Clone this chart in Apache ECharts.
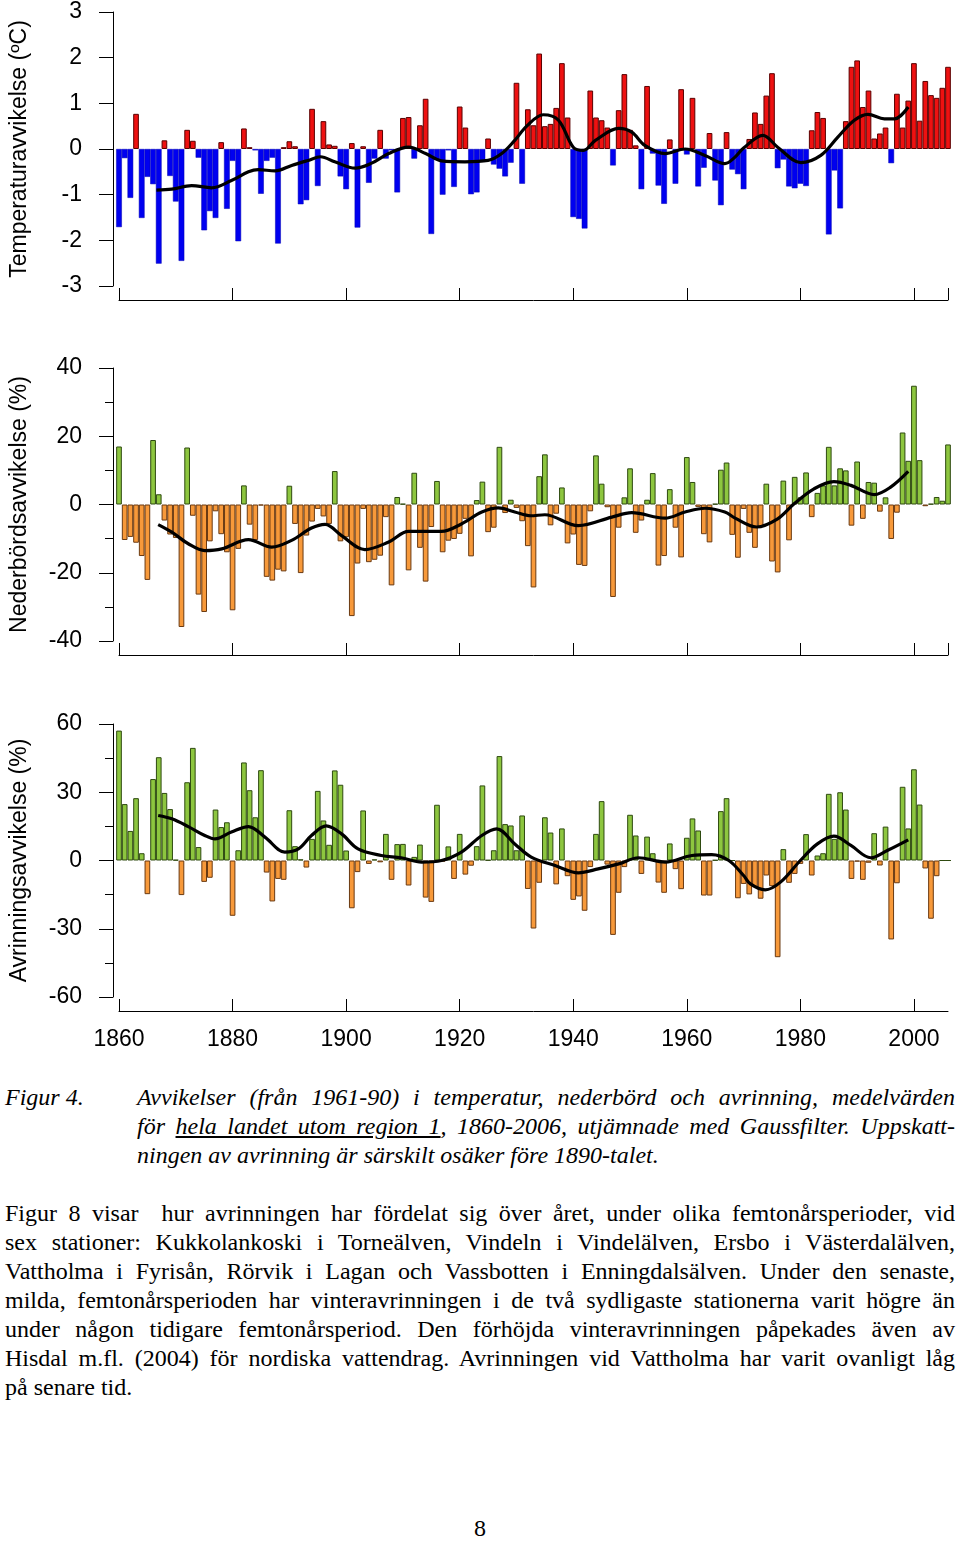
<!DOCTYPE html>
<html><head><meta charset="utf-8">
<script src="https://cdn.jsdelivr.net/npm/echarts@6/dist/echarts.min.js"></script>
<style>
body{margin:0;background:#fff;width:960px;height:1541px;position:relative;overflow:hidden}
#chart{position:absolute;left:0;top:0;width:960px;height:1075px}
.t{position:absolute;font-family:"Liberation Serif","Times New Roman",serif;font-size:24px;color:#000;line-height:29px;white-space:nowrap}
.j{text-align:justify;text-align-last:justify}
.i{font-style:italic}
</style></head><body>
<div id="chart"></div>
<div class="t i" style="left:5px;top:1083px">Figur 4.</div>
<div class="t i j" style="left:137px;top:1083px;width:818px">Avvikelser (från 1961-90) i temperatur, nederbörd och avrinning, medelvärden</div>
<div class="t i j" style="left:137px;top:1112px;width:818px">för <u>hela landet utom region 1</u>, 1860-2006, utjämnade med Gaussfilter. Uppskatt-</div>
<div class="t i" style="left:137px;top:1141px">ningen av avrinning är särskilt osäker före 1890-talet.</div>
<div class="t j" style="left:5px;top:1199px;width:950px">Figur 8 visar&nbsp; hur avrinningen har fördelat sig över året, under olika femtonårsperioder, vid</div>
<div class="t j" style="left:5px;top:1228px;width:950px">sex stationer: Kukkolankoski i Torneälven, Vindeln i Vindelälven, Ersbo i Västerdalälven,</div>
<div class="t j" style="left:5px;top:1257px;width:950px">Vattholma i Fyrisån, Rörvik i Lagan och Vassbotten i Enningdalsälven. Under den senaste,</div>
<div class="t j" style="left:5px;top:1286px;width:950px">milda, femtonårsperioden har vinteravrinningen i de två sydligaste stationerna varit högre än</div>
<div class="t j" style="left:5px;top:1315px;width:950px">under någon tidigare femtonårsperiod. Den förhöjda vinteravrinningen påpekades även av</div>
<div class="t j" style="left:5px;top:1344px;width:950px">Hisdal m.fl. (2004) för nordiska vattendrag. Avrinningen vid Vattholma har varit ovanligt låg</div>
<div class="t" style="left:5px;top:1373px">på senare tid.</div>
<div class="t" style="left:474px;top:1514px">8</div>
<script>
const START_YEAR = 1860;
const END_YEAR = 2006;
const xTicks = [1860, 1880, 1900, 1920, 1940, 1960, 1980, 2000];

// Temperature anomaly (°C), 1860-2006
const temperature = [
 -1.71,-0.2,-1.07,0.77,-1.51,-0.61,-0.77,-2.51,0.19,-0.59,
 -1.15,-2.45,0.42,0.18,-0.19,-1.78,-1.36,-1.51,0.15,-1.31,
 -0.26,-2.02,0.45,0.04,-0.03,-0.98,-0.26,-0.19,-2.07,0.04,
 0.17,0.06,-1.21,-1.12,0.88,-0.81,0.61,0.1,0.07,-0.6,
 -0.88,0.13,-1.72,0.06,-0.74,-0.21,0.42,-0.21,-0.03,-0.95,
 0.68,0.7,-0.21,0.52,1.1,-1.86,-0.23,-1.0,-0.03,-0.83,
 0.93,0.47,-0.99,-0.95,-0.25,0.23,-0.34,-0.43,-0.6,-0.3,
 1.45,-0.76,0.87,0.52,2.09,0.5,0.55,0.9,1.88,0.69,
 -1.49,-1.53,-1.74,1.28,0.69,0.63,0.47,-0.36,0.85,1.64,
 0.42,0.08,-0.88,1.38,-0.1,-0.8,-1.2,0.21,-0.76,1.31,
 -0.12,1.12,-0.82,-0.41,0.35,-0.69,-1.23,0.37,-0.45,-0.55,
 -0.88,0.22,0.8,0.55,1.17,1.66,-0.42,-0.23,-0.82,-0.86,
 -0.76,-0.81,0.41,0.81,0.68,-1.87,-0.47,-1.3,0.61,1.8,
 1.94,0.92,1.28,0.23,0.34,0.47,-0.31,1.21,0.47,1.06,
 1.88,0.62,1.49,1.18,1.12,1.34,1.8
];
// Precipitation anomaly (%), 1860-2006
const precipitation = [
 17.0,-10.4,-9.5,-11.2,-15.1,-22.1,18.9,3.0,-4.7,-8.8,
 -9.8,-35.9,16.7,-3.3,-26.4,-31.5,-10.8,-2.0,-8.7,-14.0,
 -31.0,-13.0,5.6,-5.9,-10.4,-0.3,-21.2,-22.3,-19.1,-19.6,
 5.5,-5.7,-20.1,-9.1,-5.0,-1.3,-3.5,-5.7,9.8,-10.8,
 -9.6,-32.7,-17.3,-1.3,-16.9,-16.2,-15.0,-3.7,-23.7,2.2,
 0.2,-19.3,9.3,-12.7,-22.6,-6.6,6.9,-14.0,-10.6,-10.1,
 -8.6,-4.2,-15.2,1.3,6.7,-8.1,-6.8,16.9,-2.5,1.4,
 -1.0,-4.9,-12.2,-24.3,8.3,14.7,-6.1,-2.7,5.0,-11.4,
 -8.8,-17.7,-18.0,-2.0,14.4,6.1,-0.8,-27.1,-6.8,2.1,
 10.6,-8.3,-4.7,1.4,9.2,-17.9,-15.1,4.5,-6.8,-15.5,
 13.9,6.6,-0.7,-8.7,-11.1,0.2,10.2,12.3,-8.9,-15.6,
 -1.3,-8.3,-12.7,-6.6,6.1,-16.7,-19.9,7.0,-10.5,8.1,
 2.1,9.4,-3.7,3.4,5.6,16.9,5.6,10.6,10.0,-6.2,
 12.6,-4.2,6.6,6.4,-2.1,2.1,-10.1,-2.4,21.1,12.8,
 34.8,13.0,-0.5,0.2,2.2,1.1,17.6
];
// Runoff anomaly (%), 1860-2006
const runoff = [
 57.1,24.8,13.0,27.4,3.2,-14.8,35.8,45.4,29.7,22.6,
 0.3,-15.2,34.4,49.5,5.9,-9.4,-7.6,22.4,14.7,16.8,
 -24.3,4.5,43.1,30.9,19.0,39.7,-5.3,-18.0,-8.1,-8.5,
 22.1,6.3,0.5,-3.1,9.5,30.6,17.6,6.9,39.6,33.3,
 4.4,-21.0,-5.1,22.0,-1.5,0.5,-0.8,11.7,-8.5,7.2,
 7.3,-11.0,1.6,7.0,-16.3,-18.2,24.5,-0.5,6.2,-8.1,
 11.7,-6.2,-2.3,6.3,33.0,0.2,4.5,45.9,16.0,15.4,
 4.5,19.8,-12.5,-29.9,-9.8,19.0,12.3,-10.5,14.1,-6.9,
 -17.3,-15.8,-22.1,-2.9,11.7,26.1,-1.8,-32.7,-14.2,-2.9,
 20.1,11.0,-5.9,10.5,3.2,-9.7,-14.2,7.5,-3.8,-12.6,
 10.0,18.5,13.2,-15.4,-15.4,0.2,21.7,27.4,0,-16.6,
 -10.3,-14.9,-11.7,-16.8,-6.6,-11.3,-42.5,5.0,-9.8,-5.9,
 -1.5,11.6,-6.6,2.2,3.2,29.3,9.5,30.0,22.4,-8.1,
 -0.5,-8.5,-1.0,12.0,-2.2,14.9,-34.7,-10.0,32.4,14.1,
 40.1,24.6,-3.5,-25.6,-6.9,0,0
];
// Gaussian-filtered curves: [year, value]
const temperatureSmooth = [
 [1866.6,-0.9],[1869.3,-0.88],[1872.8,-0.8],[1876.3,-0.85],[1879.8,-0.69],[1882.8,-0.5],
 [1884.5,-0.45],[1887.5,-0.48],[1890.4,-0.36],[1893.3,-0.25],[1895.5,-0.17],[1898,-0.28],
 [1901.6,-0.42],[1904.5,-0.31],[1907.5,-0.1],[1911,0.04],[1914,-0.1],[1916.8,-0.26],
 [1920.9,-0.28],[1925,-0.25],[1927.4,-0.1],[1929.7,0.19],[1931.8,0.5],[1934.7,0.75],
 [1937.4,0.63],[1940,0.04],[1941.8,-0.03],[1943.9,0.19],[1948,0.45],[1950.3,0.37],
 [1952.6,0.08],[1956.2,-0.1],[1959.7,0],[1963.2,-0.14],[1966.7,-0.32],[1968.3,-0.2],
 [1970,0.02],[1973.4,0.3],[1976,0.04],[1980.1,-0.3],[1983.6,-0.14],[1986.6,0.26],
 [1989.5,0.63],[1991.9,0.76],[1994.8,0.66],[1996.6,0.66],[1999,0.92]
];
const precipitationSmooth = [
 [1866.9,-5.9],[1869.3,-8.1],[1872.2,-11.5],[1875.1,-13.5],[1878.1,-13.0],[1882.8,-10.3],
 [1886.9,-12.5],[1890.4,-10.5],[1893.9,-6.9],[1896.3,-5.8],[1899.2,-9.1],[1903.3,-13.2],
 [1907.5,-11.0],[1911,-7.9],[1916.8,-7.9],[1920.3,-5.7],[1923.9,-2.2],[1926.8,-1.0],
 [1929.7,-2.2],[1932.5,-3.3],[1935,-3.0],[1940.9,-6.2],[1946.8,-3.7],[1950.3,-2.4],
 [1956.2,-4.0],[1959.7,-2.2],[1963.2,-1.1],[1966.7,-2.2],[1968.5,-4.0],[1972.3,-6.6],
 [1976,-4.2],[1978.9,0.2],[1982.4,4.6],[1985.9,6.7],[1988.9,5.6],[1993,2.9],
 [1995.9,5.1],[1999,9.7]
];
const runoffSmooth = [
 [1866.9,19.8],[1869.3,18.3],[1872.2,14.9],[1875.1,11.0],[1876.9,9.5],[1879.8,12.5],
 [1882.8,14.9],[1885.7,10.3],[1889.2,3.7],[1891.6,5.1],[1893.9,11.0],[1896.5,15.2],
 [1899.2,11.7],[1902.1,5.1],[1906.2,2.2],[1909.7,1.2],[1913.3,-0.7],[1916.8,0],
 [1920.3,3.7],[1923.9,11.0],[1926.5,13.9],[1929.7,7.3],[1932.6,1.5],[1936.8,-2.2],
 [1940.9,-5.4],[1944.4,-3.7],[1948,-1.5],[1951.5,1.2],[1956.2,-0.7],[1960.9,2.2],
 [1964.4,2.6],[1967.4,0],[1970,-6.6],[1971.2,-10.3],[1973.8,-12.9],[1976.5,-9.5],
 [1980,0],[1983,7.3],[1985.9,10.7],[1988.9,6.6],[1992.4,1.2],[1995.3,4.4],[1999,9.1]
];

const RED = {color:'#EE1111', borderColor:'#5A0000', borderWidth:1};
const BLUE = {color:'#0000F0', borderColor:'#0000B0', borderWidth:0.5};
const GREEN = {color:'#8DC63F', borderColor:'#2E4A10', borderWidth:1};
const ORANGE = {color:'#F7993A', borderColor:'#6A3A12', borderWidth:1};

function barData(vals, pos, neg){
  return vals.map((v,i)=>({value:[START_YEAR+i, v], itemStyle: v>=0?pos:neg}));
}

const FONT = '"Liberation Sans", Arial, Helvetica, sans-serif';
const grids = [
  {left:119, right:12, top:12, height:274},
  {left:119, right:12, top:368, height:273},
  {left:119, right:12, top:724, height:273}
];
function xAx(i, showLabel){
  return {
    type:'value', gridIndex:i, min:START_YEAR, max:END_YEAR, interval:20, offset:14,
    axisLine:{show:true, onZero:false, lineStyle:{color:'#000', width:1}},
    axisTick:{show:true, inside:true, length:12, lineStyle:{color:'#000'}},
    splitLine:{show:false},
    axisLabel:{show:showLabel, color:'#000', fontSize:23, fontFamily:FONT, margin:17,
      showMaxLabel:false, formatter:v=> xTicks.indexOf(v)>=0 ? String(v) : ''}
  };
}
function yAx(i, min, max, interval, name, minor){
  return {
    type:'value', gridIndex:i, min, max, interval, offset:6,
    name, nameLocation:'middle', nameGap:82, nameRotate:90,
    nameTextStyle:{color:'#000', fontSize:23, fontFamily:FONT},
    axisLine:{show:true, onZero:false, lineStyle:{color:'#000', width:1}},
    axisTick:{show:true, inside:false, length:14, lineStyle:{color:'#000'}},
    minorTick:{show:minor, splitNumber:2, length:8, lineStyle:{color:'#000'}},
    splitLine:{show:false},
    axisLabel:{color:'#000', fontSize:23, fontFamily:FONT, margin:31}
  };
}
function barSeries(i, vals, pos, neg){
  return {type:'bar', xAxisIndex:i, yAxisIndex:i, barWidth:5.68, clip:false,
    data:barData(vals,pos,neg), silent:true};
}
function lineSeries(i, pts){
  return {type:'line', xAxisIndex:i, yAxisIndex:i, data:pts, smooth:0.35,
    showSymbol:false, symbol:'none', lineStyle:{color:'#000', width:3.2}, silent:true, z:5};
}

const chart = echarts.init(document.getElementById('chart'));
chart.setOption({
  animation:false,
  backgroundColor:'#fff',
  grid:grids,
  xAxis:[xAx(0,false), xAx(1,false), xAx(2,true)],
  yAxis:[
    yAx(0,-3,3,1,'Temperaturavvikelse (ºC)',false),
    yAx(1,-40,40,20,'Nederbördsavvikelse (%)',true),
    yAx(2,-60,60,30,'Avrinningsavvikelse (%)',true)
  ],
  series:[
    barSeries(0,temperature,RED,BLUE), lineSeries(0,temperatureSmooth),
    barSeries(1,precipitation,GREEN,ORANGE), lineSeries(1,precipitationSmooth),
    barSeries(2,runoff,GREEN,ORANGE), lineSeries(2,runoffSmooth)
  ]
});
</script>
</body></html>
